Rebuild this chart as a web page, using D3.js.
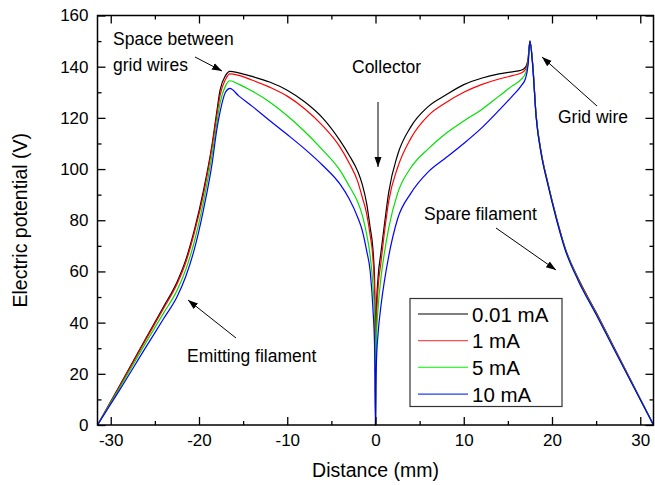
<!DOCTYPE html>
<html>
<head>
<meta charset="utf-8">
<script src="https://cdn.jsdelivr.net/npm/d3@7"></script>
<style>
  body { margin: 0; background: #fff; }
  svg { display: block; font-family: "Liberation Sans", Arial, sans-serif; }
</style>
</head>
<body>
<svg id="chart" width="655" height="485"></svg>
<script>
// distance grid (mm), shared by all four curves
var distance = [
  -31.5, -29, -26, -24, -22.5, -21.5, -20.5, -19.5, -18.5, -18, -17.6, -17, -16.5,
  -15.5, -14, -12, -10, -8, -6, -4, -3, -2, -1.5, -1, -0.6, -0.3, -0.1, -0.04,
  0,
  0.04, 0.1, 0.3, 0.6, 1, 1.5, 2.5, 4, 6, 8, 10, 12, 14, 15.5, 16.5, 17, 17.3,
  17.5,
  17.8, 18.2, 18.8, 19.5, 20.5, 21.5, 23, 25, 27, 29, 31.5
];

var v001 = [
  0, 15.3, 34, 46.3, 55.8, 64.5, 76.5, 91.5, 110, 122, 131, 136.5, 138.2,
  137.6, 136.2, 134, 130.8, 126.2, 120, 111, 105.5, 99, 94, 86.5, 77, 69, 56, 35,
  0,
  32, 45, 58, 67, 78, 91, 105.5, 116.5, 124.5, 129, 133, 135.5, 137.2, 138, 138.6, 139.8, 143.5,
  150,
  141.5, 121, 106, 95, 81, 69, 57, 44, 30.5, 17, 0
];

var v1 = [
  0, 15, 33.5, 45.6, 55, 63.5, 75.5, 90, 109, 120.5, 129, 135, 137.2,
  136.6, 134.8, 132, 128.5, 123.5, 117, 108.5, 102.5, 95, 89, 82.5, 74, 65.5, 52, 33,
  0,
  28, 40, 54, 63, 75, 87.5, 100.5, 112, 121, 126, 130, 133, 135.2, 136.5, 137.5, 139, 143,
  150,
  141.3, 120.8, 105.8, 94.8, 80.8, 68.8, 56.8, 43.8, 30.3, 16.9, 0
];

var v5 = [
  0, 14.4, 32.3, 43.8, 52.5, 60.7, 72, 87, 106, 117.5, 126, 132.5, 134.5,
  133.2, 130.5, 126.2, 120.8, 114.6, 107.5, 99.4, 93.5, 87, 82, 74.5, 66, 55, 42, 26,
  0,
  22, 33, 46, 57, 67, 77, 90.5, 100.5, 108, 114, 118.8, 123.2, 128.5, 132.5, 135, 137.5, 142,
  150,
  141.2, 120.6, 105.6, 94.6, 80.6, 68.6, 56.5, 43.5, 30, 16.7, 0
];

var v10 = [
  0, 13.6, 30.5, 41.6, 50, 58, 69, 84, 102.5, 115, 122.5, 130, 131.5,
  128.6, 124.6, 119, 113.5, 107.8, 101.5, 94, 88.5, 81, 76, 68, 60, 46, 30, 18,
  0,
  15, 24, 36, 46, 56, 66, 80.5, 90.5, 99, 104.5, 110, 116, 123, 128.5, 132.5, 135.4, 141,
  150,
  140.8, 120.4, 105.4, 94.4, 80.4, 68.4, 56.2, 43.2, 29.8, 16.5, 0
];

var seriesNames = ["0.01 mA", "1 mA", "5 mA", "10 mA"];
var seriesColors = ["#000000", "#ff0000", "#00e000", "#0000ff"];
var legendColors = ["#000000", "#ff5050", "#30ff30", "#2040ff"];
var xTicks = [-30, -20, -10, 0, 10, 20, 30];
var xMinor = [-25, -15, -5, 5, 15, 25];
var yTicks = [0, 20, 40, 60, 80, 100, 120, 140, 160];
var yMinor = [10, 30, 50, 70, 90, 110, 130, 150];

var svg = d3.select("#chart");
var plotLeft = 97.5, plotRight = 653.5, plotTop = 15.5, plotBottom = 425;

var x = d3.scaleLinear().domain([-31.5, 31.5]).range([plotLeft, plotRight]);
var y = d3.scaleLinear().domain([0, 160]).range([plotBottom, plotTop]);

var allSeries = [v001, v1, v5, v10];

// curves
var line = d3.line()
  .x(function (d) { return x(d[0]); })
  .y(function (d) { return y(d[1]); })
  .curve(d3.curveMonotoneX);

allSeries.forEach(function (vals, i) {
  var pts = distance.map(function (dd, j) { return [dd, vals[j]]; });
  svg.append("path")
    .attr("d", line(pts))
    .attr("fill", "none")
    .attr("stroke", seriesColors[i])
    .attr("stroke-width", 1.2)
    .attr("stroke-linejoin", "round");
});

// axes, ticks pointing inward
function styleAxis(g) {
  g.select(".domain").remove();
  g.selectAll("line").attr("stroke", "#000").attr("stroke-width", 1.3);
  g.selectAll("text").attr("fill", "#000").style("font-size", "17px")
    .style("font-family", "'Liberation Sans', Arial, sans-serif");
}
var plain = function (d) { return String(d); };

svg.append("g").attr("transform", "translate(0," + plotBottom + ")")
  .call(d3.axisBottom(x).tickValues(xTicks).tickSize(-8).tickPadding(9).tickFormat(plain)).call(styleAxis);
svg.append("g").attr("transform", "translate(0," + plotBottom + ")")
  .call(d3.axisBottom(x).tickValues(xMinor).tickSize(-4).tickFormat("")).call(styleAxis);
svg.append("g").attr("transform", "translate(0," + plotTop + ")")
  .call(d3.axisTop(x).tickValues(xTicks).tickSize(-8).tickFormat("")).call(styleAxis);
svg.append("g").attr("transform", "translate(0," + plotTop + ")")
  .call(d3.axisTop(x).tickValues(xMinor).tickSize(-4).tickFormat("")).call(styleAxis);

svg.append("g").attr("transform", "translate(" + plotLeft + ",0)")
  .call(d3.axisLeft(y).tickValues(yTicks).tickSize(-8).tickPadding(9).tickFormat(plain)).call(styleAxis);
svg.append("g").attr("transform", "translate(" + plotLeft + ",0)")
  .call(d3.axisLeft(y).tickValues(yMinor).tickSize(-4).tickFormat("")).call(styleAxis);
svg.append("g").attr("transform", "translate(" + plotRight + ",0)")
  .call(d3.axisRight(y).tickValues(yTicks).tickSize(-8).tickFormat("")).call(styleAxis);
svg.append("g").attr("transform", "translate(" + plotRight + ",0)")
  .call(d3.axisRight(y).tickValues(yMinor).tickSize(-4).tickFormat("")).call(styleAxis);

// frame
svg.append("rect")
  .attr("x", plotLeft).attr("y", plotTop)
  .attr("width", plotRight - plotLeft).attr("height", plotBottom - plotTop)
  .attr("fill", "none").attr("stroke", "#000").attr("stroke-width", 1.5);

// axis titles
svg.append("text")
  .attr("x", (plotLeft + plotRight) / 2).attr("y", 477)
  .attr("text-anchor", "middle").style("font-size", "19.5px")
  .text("Distance (mm)");
svg.append("text")
  .attr("transform", "translate(27," + ((plotTop + plotBottom) / 2) + ") rotate(-90)")
  .attr("text-anchor", "middle").style("font-size", "19.5px")
  .text("Electric potential (V)");

// annotations with arrows
svg.append("defs").append("marker")
  .attr("id", "head").attr("viewBox", "0 0 10 10")
  .attr("refX", 10).attr("refY", 5)
  .attr("markerWidth", 10).attr("markerHeight", 10)
  .attr("markerUnits", "userSpaceOnUse")
  .attr("orient", "auto")
  .append("path").attr("d", "M0,1.5 L10,5 L0,8.5 Z").attr("fill", "#000");

var notes = [
  { text: ["Space between", "grid wires"], x: 113, y: 45, arrow: [195, 57, 222, 71] },
  { text: ["Collector"], x: 352, y: 73, arrow: [378, 102, 378, 167] },
  { text: ["Grid wire"], x: 558, y: 123, arrow: [597, 106, 542, 57] },
  { text: ["Spare filament"], x: 424, y: 220, arrow: [496, 228, 556, 270] },
  { text: ["Emitting filament"], x: 187, y: 362, arrow: [236, 338, 188, 300] }
];

notes.forEach(function (n) {
  n.text.forEach(function (t, k) {
    svg.append("text").attr("x", n.x).attr("y", n.y + k * 26)
      .style("font-size", "17.5px").text(t);
  });
  svg.append("line")
    .attr("x1", n.arrow[0]).attr("y1", n.arrow[1])
    .attr("x2", n.arrow[2]).attr("y2", n.arrow[3])
    .attr("stroke", "#000").attr("stroke-width", 1)
    .attr("marker-end", "url(#head)");
});

// legend
var lg = svg.append("g");
lg.append("rect").attr("x", 410).attr("y", 298.5).attr("width", 152).attr("height", 108)
  .attr("fill", "#fff").attr("stroke", "#333").attr("stroke-width", 1.2);
seriesNames.forEach(function (name, i) {
  var ly = 314 + i * 26.7;
  lg.append("line").attr("x1", 418).attr("x2", 468).attr("y1", ly).attr("y2", ly)
    .attr("stroke", legendColors[i]).attr("stroke-width", 1.2);
  lg.append("text").attr("x", 472).attr("y", ly + 7.5)
    .style("font-size", "20.5px").text(name);
});
</script>
</body>
</html>
